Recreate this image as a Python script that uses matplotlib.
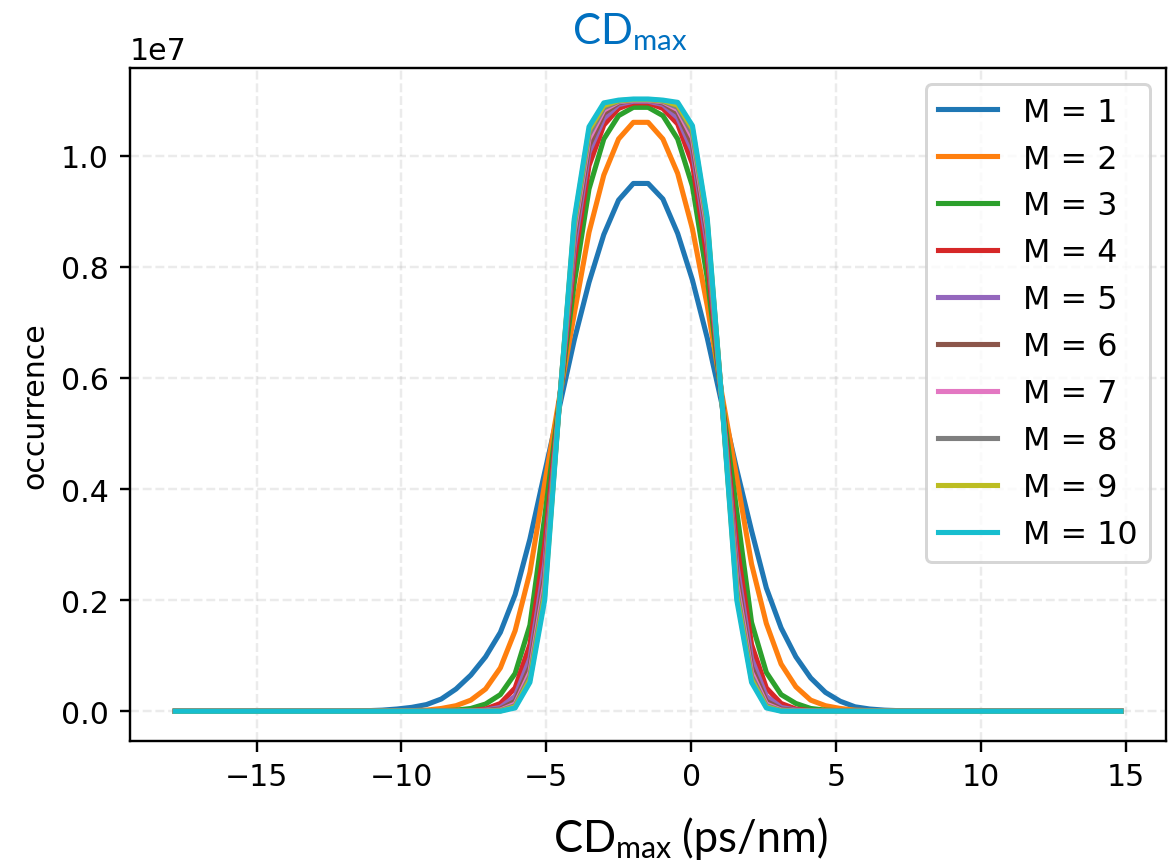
import numpy as np
import matplotlib
matplotlib.use("Agg")
import matplotlib.pyplot as plt

plt.rcParams["mathtext.fontset"] = "custom"
plt.rcParams["mathtext.rm"] = "Lato"
plt.rcParams["mathtext.it"] = "Lato:italic"
plt.rcParams["mathtext.bf"] = "Lato:bold"

# CD_max bin positions (ps/nm)
x = [-17.805, -17.295, -16.785, -16.275, -15.765, -15.255, -14.745, -14.235, -13.725, -13.215,
     -12.705, -12.195, -11.685, -11.175, -10.665, -10.155, -9.645, -9.135, -8.625, -8.115,
     -7.605, -7.095, -6.585, -6.075, -5.565, -5.055, -4.545, -4.035, -3.525, -3.015,
     -2.505, -1.995, -1.485, -0.975, -0.465, 0.045, 0.555, 1.065, 1.575, 2.085,
     2.595, 3.105, 3.615, 4.125, 4.635, 5.145, 5.655, 6.165, 6.675, 7.185,
     7.695, 8.205, 8.715, 9.225, 9.735, 10.245, 10.755, 11.265, 11.775, 12.285,
     12.795, 13.305, 13.815, 14.325, 14.835]

# occurrence, in units of 1e7
m1 = [0, 0, 0, 0, 0, 0, 0, 0, 0, 0, 0, 0,
      0.0005, 0.001, 0.002, 0.004, 0.007, 0.012, 0.022, 0.04, 0.065, 0.098,
      0.142, 0.21, 0.31, 0.43, 0.548, 0.668, 0.772, 0.858, 0.92, 0.95,
      0.95, 0.922, 0.86, 0.776, 0.672, 0.552, 0.435, 0.325, 0.222, 0.15,
      0.098, 0.06, 0.034, 0.018, 0.008, 0.004, 0.002, 0.001, 0.0003,
      0, 0, 0, 0, 0, 0, 0, 0, 0, 0, 0, 0, 0, 0]
m2 = [0, 0, 0, 0, 0, 0, 0, 0, 0, 0, 0, 0,
      0, 0, 0, 0.0003, 0.001, 0.002, 0.005, 0.01, 0.02, 0.04,
      0.078, 0.145, 0.25, 0.41, 0.565, 0.715, 0.862, 0.965, 1.03, 1.06,
      1.06, 1.03, 0.968, 0.868, 0.73, 0.57, 0.42, 0.265, 0.158, 0.085,
      0.044, 0.02, 0.01, 0.005, 0.002, 0.001, 0.0003, 0, 0,
      0, 0, 0, 0, 0, 0, 0, 0, 0, 0, 0, 0, 0, 0]
m3 = [0, 0, 0, 0, 0, 0, 0, 0, 0, 0, 0, 0,
      0, 0, 0, 0, 0, 0.0003, 0.001, 0.002, 0.005, 0.013,
      0.03, 0.068, 0.155, 0.35, 0.56, 0.77, 0.94, 1.03, 1.072, 1.087,
      1.087, 1.072, 1.03, 0.945, 0.78, 0.56, 0.36, 0.16, 0.07, 0.03,
      0.014, 0.005, 0.002, 0.001, 0.0003, 0, 0, 0, 0,
      0, 0, 0, 0, 0, 0, 0, 0, 0, 0, 0, 0, 0, 0]
m4 = [0, 0, 0, 0, 0, 0, 0, 0, 0, 0, 0, 0,
      0, 0, 0, 0, 0, 0, 0, 0.0003, 0.001, 0.004,
      0.014, 0.042, 0.12, 0.30, 0.558, 0.81, 0.982, 1.055, 1.085, 1.095,
      1.095, 1.085, 1.057, 0.985, 0.815, 0.558, 0.30, 0.12, 0.042, 0.014,
      0.004, 0.001, 0.0003, 0, 0, 0, 0, 0, 0,
      0, 0, 0, 0, 0, 0, 0, 0, 0, 0, 0, 0, 0, 0]
m5 = [0, 0, 0, 0, 0, 0, 0, 0, 0, 0, 0, 0,
      0, 0, 0, 0, 0, 0, 0, 0, 0.0005, 0.002,
      0.007, 0.027, 0.095, 0.265, 0.556, 0.835, 1.006, 1.067, 1.092, 1.098,
      1.098, 1.092, 1.068, 1.008, 0.84, 0.556, 0.265, 0.095, 0.027, 0.007,
      0.002, 0.0005, 0, 0, 0, 0, 0, 0, 0,
      0, 0, 0, 0, 0, 0, 0, 0, 0, 0, 0, 0, 0, 0]
m6 = [0, 0, 0, 0, 0, 0, 0, 0, 0, 0, 0, 0,
      0, 0, 0, 0, 0, 0, 0, 0, 0, 0.001,
      0.004, 0.018, 0.08, 0.245, 0.556, 0.852, 1.018, 1.076, 1.095, 1.10,
      1.10, 1.095, 1.077, 1.02, 0.856, 0.556, 0.245, 0.08, 0.018, 0.004,
      0.001, 0, 0, 0, 0, 0, 0, 0, 0,
      0, 0, 0, 0, 0, 0, 0, 0, 0, 0, 0, 0, 0, 0]
m7 = [0, 0, 0, 0, 0, 0, 0, 0, 0, 0, 0, 0,
      0, 0, 0, 0, 0, 0, 0, 0, 0, 0.0005,
      0.002, 0.013, 0.07, 0.23, 0.556, 0.865, 1.03, 1.082, 1.097, 1.10,
      1.10, 1.097, 1.083, 1.032, 0.868, 0.556, 0.23, 0.07, 0.013, 0.002,
      0.0005, 0, 0, 0, 0, 0, 0, 0, 0,
      0, 0, 0, 0, 0, 0, 0, 0, 0, 0, 0, 0, 0, 0]
m8 = [0, 0, 0, 0, 0, 0, 0, 0, 0, 0, 0, 0,
      0, 0, 0, 0, 0, 0, 0, 0, 0, 0,
      0.001, 0.01, 0.063, 0.218, 0.556, 0.874, 1.038, 1.086, 1.098, 1.101,
      1.101, 1.098, 1.087, 1.04, 0.877, 0.556, 0.218, 0.063, 0.01, 0.001,
      0, 0, 0, 0, 0, 0, 0, 0, 0,
      0, 0, 0, 0, 0, 0, 0, 0, 0, 0, 0, 0, 0, 0]
m9 = [0, 0, 0, 0, 0, 0, 0, 0, 0, 0, 0, 0,
      0, 0, 0, 0, 0, 0, 0, 0, 0, 0,
      0.0005, 0.008, 0.057, 0.208, 0.556, 0.88, 1.046, 1.09, 1.099, 1.101,
      1.101, 1.099, 1.091, 1.048, 0.883, 0.556, 0.208, 0.057, 0.008, 0.0005,
      0, 0, 0, 0, 0, 0, 0, 0, 0,
      0, 0, 0, 0, 0, 0, 0, 0, 0, 0, 0, 0, 0, 0]
m10 = [0, 0, 0, 0, 0, 0, 0, 0, 0, 0, 0, 0,
       0, 0, 0, 0, 0, 0, 0, 0, 0, 0,
       0, 0.006, 0.052, 0.20, 0.555, 0.886, 1.052, 1.095, 1.10, 1.102,
       1.102, 1.10, 1.096, 1.054, 0.888, 0.555, 0.20, 0.052, 0.006, 0,
       0, 0, 0, 0, 0, 0, 0, 0, 0,
       0, 0, 0, 0, 0, 0, 0, 0, 0, 0, 0, 0, 0, 0]

series = [m1, m2, m3, m4, m5, m6, m7, m8, m9, m10]
labels = ["M = %d" % (i + 1) for i in range(len(series))]

fig, ax = plt.subplots(figsize=(1176 / 216, 868 / 216), dpi=216)
fig.subplots_adjust(left=0.1105, right=0.9915, top=0.9205, bottom=0.1452)

for ys, lab in zip(series, labels):
    ax.plot(x, np.array(ys) * 1e7, label=lab, lw=1.7)

ax.set_xlim(-19.37, 16.39)
ax.set_ylim(-0.0535e7, 1.1578e7)
ax.grid(True, linestyle="--", alpha=0.25)
ax.set_ylabel("occurrence")
ax.legend(loc="upper right", fontsize=10.6, handlelength=1.85)

# title and x label (Calibri-like, placed by hand)
fig.text(572 / 1176, 1 - 44 / 868, r"CD$_{\mathrm{max}}$", color="#0070C0",
         fontsize=14, family="Lato", ha="left", va="baseline")
fig.text(553 / 1176, 1 - 852 / 868, r"CD$_{\mathrm{max}}$", color="black",
         fontsize=14.5, family="Lato", ha="left", va="baseline")
fig.text(828 / 1176, 1 - 852 / 868, "(ps/nm)", color="black",
         fontsize=14.5, family="Lato", ha="right", va="baseline")

fig.savefig("out.png", dpi=216)
